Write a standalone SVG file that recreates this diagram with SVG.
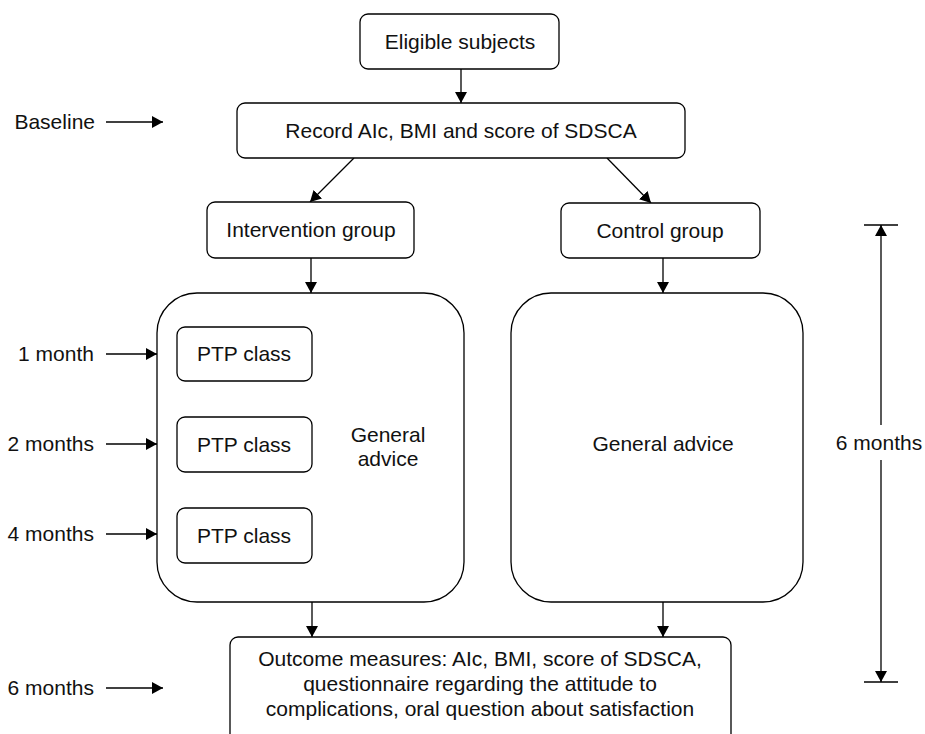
<svg xmlns="http://www.w3.org/2000/svg" width="925" height="734" viewBox="0 0 925 734">
<style>
.box{fill:#fff;stroke:#000;stroke-width:1.3}
.t{font-family:"Liberation Sans",Arial,sans-serif;font-size:21px;fill:#111}
.c{text-anchor:middle}
.e{text-anchor:end}
.ln{stroke:#000;stroke-width:1.3;fill:none}
.arr{marker-end:url(#ah)}
</style>
<defs>
<marker id="ah" viewBox="0 0 11 12" refX="11" refY="6" markerWidth="11" markerHeight="12" markerUnits="userSpaceOnUse" orient="auto">
<path d="M0,0 L11,6 L0,12 z" fill="#000"/>
</marker>
</defs>
<rect width="925" height="734" fill="#fff"/>
<g id="connectors">
<line class="ln arr" x1="461" y1="69" x2="461" y2="103"/>
<line class="ln arr" x1="354" y1="158" x2="310" y2="202"/>
<line class="ln arr" x1="607" y1="158" x2="651" y2="203"/>
<line class="ln arr" x1="311" y1="258" x2="311" y2="293"/>
<line class="ln arr" x1="663" y1="258" x2="663" y2="293"/>
<line class="ln arr" x1="243" y1="381" x2="243" y2="417"/>
<line class="ln arr" x1="244" y1="472" x2="244" y2="508"/>
<line class="ln arr" x1="312" y1="602" x2="312" y2="637"/>
<line class="ln arr" x1="663" y1="602" x2="663" y2="637"/>
<line class="ln arr" x1="106" y1="122" x2="163" y2="122"/>
<line class="ln arr" x1="106" y1="354" x2="157" y2="354"/>
<line class="ln arr" x1="106" y1="444" x2="157" y2="444"/>
<line class="ln arr" x1="106" y1="534" x2="157" y2="534"/>
<line class="ln arr" x1="106" y1="688" x2="163" y2="688"/>
<line class="ln" x1="864" y1="225" x2="898" y2="225"/>
<line class="ln" x1="864" y1="682" x2="898" y2="682"/>
<line class="ln arr" x1="881" y1="425" x2="881" y2="225"/>
<line class="ln arr" x1="881" y1="460" x2="881" y2="682"/>
</g>
<g id="eligible">
<rect class="box" x="360" y="14" width="199" height="55" rx="8"/>
<text class="t c" x="460" y="49">Eligible subjects</text>
</g>
<g id="record">
<rect class="box" x="237" y="103" width="448" height="55" rx="8"/>
<text class="t c" x="461" y="138">Record AIc, BMI and score of SDSCA</text>
</g>
<g id="intervention">
<rect class="box" x="207" y="202" width="207" height="56" rx="8"/>
<text class="t c" x="311" y="237">Intervention group</text>
</g>
<g id="control">
<rect class="box" x="561" y="203" width="199" height="55" rx="8"/>
<text class="t c" x="660" y="238">Control group</text>
</g>
<g id="intervention-advice">
<rect class="box" x="157" y="293" width="307" height="309" rx="40"/>
<text class="t c" x="388" y="442">General</text>
<text class="t c" x="388" y="466">advice</text>
</g>
<g id="ptp1">
<rect class="box" x="177" y="327" width="135" height="54" rx="8"/>
<text class="t c" x="244" y="361">PTP class</text>
</g>
<g id="ptp2">
<rect class="box" x="177" y="417" width="135" height="55" rx="8"/>
<text class="t c" x="244" y="452">PTP class</text>
</g>
<g id="ptp3">
<rect class="box" x="177" y="508" width="135" height="55" rx="8"/>
<text class="t c" x="244" y="543">PTP class</text>
</g>
<g id="control-advice">
<rect class="box" x="511" y="293" width="292" height="309" rx="40"/>
<text class="t c" x="663" y="451">General advice</text>
</g>
<g id="outcome">
<rect class="box" x="230" y="637" width="501" height="110" rx="8"/>
<text class="t c" x="480" y="666">Outcome measures: AIc, BMI, score of SDSCA,</text>
<text class="t c" x="480" y="691">questionnaire regarding the attitude to</text>
<text class="t c" x="480" y="716">complications, oral question about satisfaction</text>
</g>
<g id="labels">
<text class="t e" x="95" y="129">Baseline</text>
<text class="t e" x="94" y="361">1 month</text>
<text class="t e" x="94" y="451">2 months</text>
<text class="t e" x="94" y="541">4 months</text>
<text class="t e" x="94" y="695">6 months</text>
<text class="t c" x="879" y="450">6 months</text>
</g>
</svg>
